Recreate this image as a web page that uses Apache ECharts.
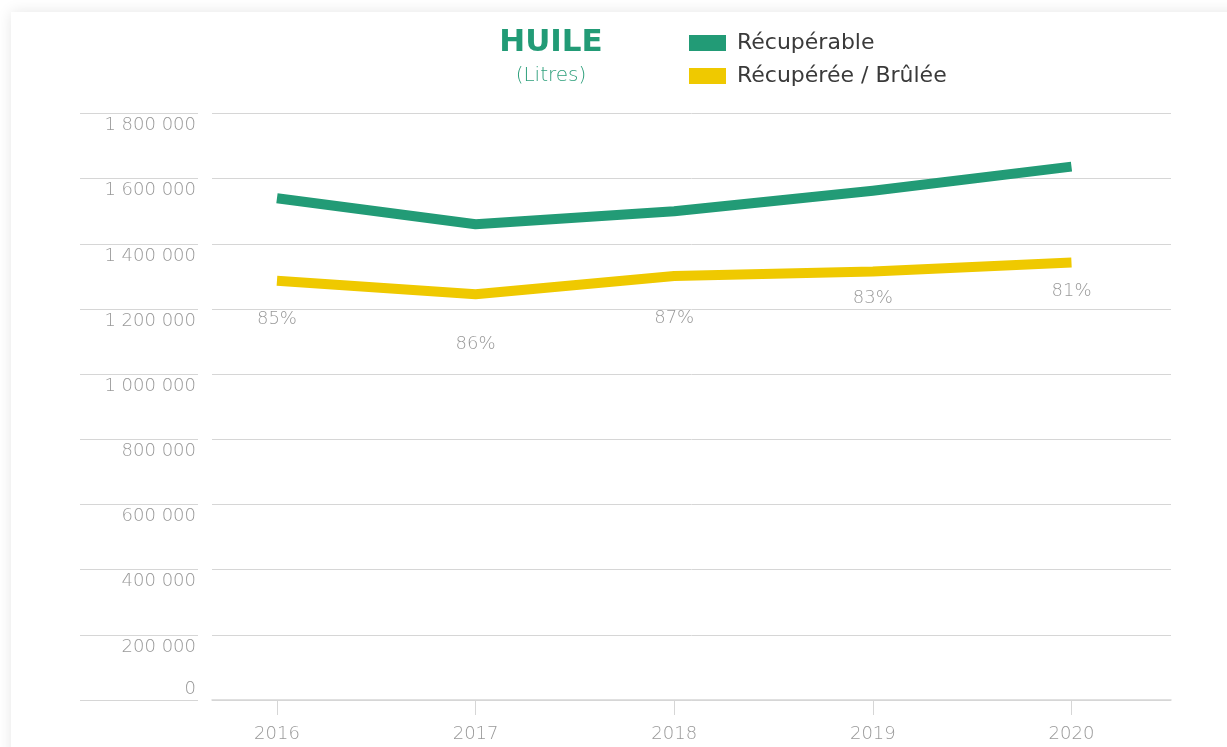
<!DOCTYPE html>
<html>
<head>
<meta charset="utf-8">
<script src="https://cdn.jsdelivr.net/npm/echarts@6/dist/echarts.min.js"></script>
<style>
  html, body { margin: 0; padding: 0; background: #ffffff; overflow: hidden; }
  .card {
    position: absolute; left: 11px; top: 12px; width: 1240px; height: 760px;
    background: #ffffff; box-shadow: 0 0 14px rgba(0, 0, 0, 0.1);
  }
  #chart { position: absolute; left: 0; top: 0; width: 1227px; height: 747px; }
</style>
</head>
<body>
<div class="card"></div>
<div id="chart"></div>
<script>
// values
const years = [2016, 2017, 2018, 2019, 2020]
const recuperable = [1540000, 1460000, 1500000, 1563000, 1637000]
const recupereeBrulee = [1287000, 1245000, 1301000, 1315000, 1343000]
const ratioLabels = ['85%', '86%', '87%', '83%', '81%']
const yTicks = [0, 200000, 400000, 600000, 800000, 1000000, 1200000, 1400000, 1600000, 1800000]

// how far below the yellow line each percentage sits (px)
const ratioGap = [39, 50, 42, 27, 29]

const GREEN = '#229b76'
const YELLOW = '#efc900'
const GRID_LINE = '#d6d6d6'
const LABEL = '#999999'
const FONT = 'DejaVu Sans'

const fmt = (v) => String(v).replace(/\B(?=(\d{3})+(?!\d))/g, ' ')

const chart = echarts.init(document.getElementById('chart'))

const yMin = yTicks[0]
const yMax = yTicks[yTicks.length - 1]
const yStep = yTicks[1] - yTicks[0]

chart.setOption({
  animation: false,
  backgroundColor: 'transparent',
  graphic: [
    {
      type: 'text', x: 551, y: 27,
      style: { text: 'HUILE', fill: GREEN, font: 'bold 31px "DejaVu Sans"', textAlign: 'center' },
    },
    {
      type: 'text', x: 551, y: 66,
      style: { text: '(Litres)', fill: '#2d9f7b', font: '300 20px "DejaVu Sans"', textAlign: 'center' },
    },
  ],
  legend: {
    orient: 'vertical',
    left: 689,
    top: 32,
    padding: 0,
    itemWidth: 37,
    itemHeight: 16,
    itemGap: 11,
    icon: 'rect',
    textStyle: { color: '#3a3a3a', fontSize: 22, fontFamily: FONT, lineHeight: 20, padding: [0, 0, 0, 6] },
    data: [
      { name: 'Récupérable', itemStyle: { color: GREEN } },
      { name: 'Récupérée / Brûlée', itemStyle: { color: YELLOW } },
    ],
  },
  grid: [
    { left: 212, right: 56, top: 113.5, bottom: 47 },
    { left: 80, width: 118, top: 113.5, bottom: 47 },
  ],
  xAxis: [
    {
      type: 'value',
      gridIndex: 0,
      min: 2015.673,
      max: 2020.501,
      axisLine: { show: true, onZero: false, lineStyle: { color: GRID_LINE, width: 1.5 } },
      axisTick: { show: true, length: 15, customValues: years, lineStyle: { color: GRID_LINE } },
      axisLabel: {
        customValues: years,
        formatter: (v) => String(v),
        color: LABEL, fontSize: 18, fontFamily: FONT, fontWeight: 200, margin: 25,
      },
      splitLine: { show: false },
    },
    { type: 'value', gridIndex: 1, show: false, min: 0, max: 1 },
  ],
  yAxis: [
    {
      type: 'value',
      gridIndex: 0,
      position: 'left',
      min: yMin, max: yMax, interval: yStep,
      axisLine: { show: false },
      axisTick: { show: false },
      splitLine: { lineStyle: { color: GRID_LINE, width: 1 } },
      axisLabel: {
        formatter: (v) => (v === 0 ? '' : fmt(v)),
        verticalAlign: 'top',
        padding: [3, 0, 0, 0],
        margin: 16,
        color: LABEL, fontSize: 18, fontFamily: FONT, fontWeight: 200,
      },
    },
    {
      type: 'value',
      gridIndex: 0,
      position: 'left',
      min: yMin, max: yMax, interval: yStep,
      axisLine: { show: false },
      axisTick: { show: false },
      splitLine: { show: false },
      axisLabel: {
        formatter: (v) => (v === 0 ? fmt(v) : ''),
        verticalAlign: 'bottom',
        padding: [0, 0, 2, 0],
        margin: 16,
        color: LABEL, fontSize: 18, fontFamily: FONT, fontWeight: 200,
      },
    },
    {
      type: 'value',
      gridIndex: 1,
      min: yMin, max: yMax, interval: yStep,
      axisLine: { show: false },
      axisTick: { show: false },
      axisLabel: { show: false },
      splitLine: { lineStyle: { color: GRID_LINE, width: 1 } },
    },
  ],
  series: [
    {
      name: 'Récupérable',
      type: 'line',
      xAxisIndex: 0,
      yAxisIndex: 0,
      showSymbol: false,
      color: GREEN,
      lineStyle: { color: GREEN, width: 10, cap: 'butt', join: 'round' },
      data: years.map((y, i) => [y, recuperable[i]]),
      z: 3,
    },
    {
      name: 'Récupérée / Brûlée',
      type: 'line',
      xAxisIndex: 0,
      yAxisIndex: 0,
      showSymbol: true,
      symbol: 'circle',
      symbolSize: 1,
      itemStyle: { color: 'rgba(0,0,0,0)', borderWidth: 0 },
      lineStyle: { color: YELLOW, width: 10, cap: 'butt', join: 'round' },
      label: {
        show: true,
        position: 'bottom',
        color: LABEL, fontSize: 18, fontFamily: FONT, fontWeight: 200,
        formatter: (p) => ratioLabels[p.dataIndex],
      },
      data: years.map((y, i) => ({
        value: [y, recupereeBrulee[i]],
        label: { distance: ratioGap[i] - 9.5 },
      })),
      z: 3,
    },
  ],
})
</script>
</body>
</html>
